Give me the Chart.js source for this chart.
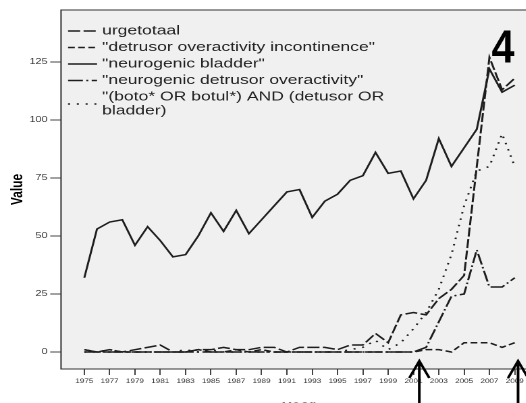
<!DOCTYPE html>
<html>
<head>
<meta charset="utf-8">
<script src="https://cdn.jsdelivr.net/npm/chart.js@4.4.1/dist/chart.umd.min.js"></script>
<style>
  html, body { margin: 0; padding: 0; background: #fff; overflow: hidden; }
  /* the source picture is stretched sideways, so the whole chart is too */
  #wrap { position: absolute; left: 0; top: 0; width: 404px; height: 413px; transform: scaleX(1.35); transform-origin: 0 0; }
</style>
</head>
<body>
<div id="wrap"><canvas id="chart" width="404" height="413"></canvas></div>
<script>
// ---- data ----
const years = [1975, 1976, 1977, 1978, 1979, 1980, 1981, 1982, 1983, 1984,
               1985, 1986, 1987, 1988, 1989, 1990, 1991, 1992, 1993, 1994,
               1995, 1996, 1997, 1998, 1999, 2000, 2001, 2002, 2003, 2004,
               2005, 2006, 2007, 2008, 2009];

const urgetotaal = [1, 0, 1, 0, 1, 2, 3, 0, 0, 1,
                    1, 2, 1, 1, 2, 2, 0, 2, 2, 2,
                    1, 3, 3, 8, 4, 16, 17, 16, 23, 27,
                    33, 80, 127, 113, 118];

const detrusorIncontinence = [1, 0, 0, 0, 0, 0, 0, 0, 0, 1,
                              0, 0, 1, 0, 1, 0, 0, 0, 0, 0,
                              0, 0, 0, 0, 0, 0, 0, 1, 1, 0,
                              4, 4, 4, 2, 4];

const neurogenicBladder = [32, 53, 56, 57, 46, 54, 48, 41, 42, 50,
                           60, 52, 61, 51, 57, 63, 69, 70, 58, 65,
                           68, 74, 76, 86, 77, 78, 66, 74, 92, 80,
                           88, 96, 122, 112, 115];

const neurogenicDetrusor = [0, 0, 0, 0, 0, 0, 0, 0, 0, 0,
                            0, 0, 0, 0, 0, 0, 0, 0, 0, 0,
                            0, 0, 0, 0, 0, 0, 0, 2, 13, 24,
                            25, 44, 28, 28, 32];

const botulinum = [0, 0, 1, 0, 0, 0, 0, 0, 1, 0,
                   1, 0, 0, 0, 0, 0, 0, 0, 0, 0,
                   0, 1, 2, 5, 1, 4, 10, 17, 27, 42,
                   63, 78, 80, 94, 80];

const seriesLabels = [
    ['urgetotaal'],
    ['"detrusor overactivity incontinence"'],
    ['"neurogenic bladder"'],
    ['"neurogenic detrusor overactivity"'],
    ['"(boto* OR botul*) AND (detusor OR', 'bladder)']
];

const xTicks = [1975, 1977, 1979, 1981, 1983, 1985, 1987, 1989, 1991,
                1993, 1995, 1997, 1999, 2001, 2003, 2005, 2007, 2009];
const yTicks = [0, 25, 50, 75, 100, 125];

const panelLabel = '4';
const arrowYears = [2001.46, 2009.26];

// ---- styles ----
const FONT = "'Liberation Sans', Arial, Helvetica, sans-serif";
const LINE = '#1e1e1e';
const dashes = [[9, 2.5], [5, 2.5], [], [11, 2.5, 1.5, 2.5], [1.5, 5]];

const seriesValues = [urgetotaal, detrusorIncontinence, neurogenicBladder, neurogenicDetrusor, botulinum];

const datasets = seriesValues.map((vals, i) => ({
    label: seriesLabels[i].join(' '),
    legendLines: seriesLabels[i],
    data: years.map((yr, k) => ({ x: yr, y: vals[k] })),
    borderColor: LINE,
    borderWidth: 1.5,
    borderDash: dashes[i],
    pointRadius: 0,
    tension: 0,
    fill: false
}));

const plotFrame = {
    id: 'plotFrame',
    beforeDraw(chart) {
        const { ctx, chartArea: a } = chart;
        ctx.save();
        ctx.fillStyle = '#f0f0f0';
        ctx.fillRect(a.left, a.top, a.right - a.left, a.bottom - a.top);
        ctx.restore();
    },
    afterDraw(chart) {
        const { ctx, chartArea: a } = chart;
        ctx.save();
        ctx.strokeStyle = '#333';
        ctx.lineWidth = 1;
        ctx.strokeRect(a.left, a.top, a.right - a.left, a.bottom - a.top);
        ctx.restore();
    }
};

const insideLegend = {
    id: 'insideLegend',
    afterDatasetsDraw(chart) {
        const ctx = chart.ctx;
        ctx.save();
        ctx.font = '13px ' + FONT;
        ctx.fillStyle = '#222';
        ctx.textBaseline = 'middle';
        let y = 31;
        chart.data.datasets.forEach(ds => {
            const lines = ds.legendLines;
            const sampleY = y + (lines.length - 1) * 7;
            ctx.strokeStyle = ds.borderColor;
            ctx.lineWidth = ds.borderWidth;
            ctx.setLineDash(ds.borderDash);
            ctx.beginPath();
            ctx.moveTo(50.4, sampleY);
            ctx.lineTo(71.9, sampleY);
            ctx.stroke();
            ctx.setLineDash([]);
            lines.forEach((t, i) => ctx.fillText(t, 75.6, y + i * 14));
            y += 16.5 + (lines.length - 1) * 14;
        });
        ctx.restore();
    }
};

// panel number and the two arrows pasted onto the figure
const panelMarks = {
    id: 'panelMarks',
    afterDraw(chart) {
        const ctx = chart.ctx;
        const xs = chart.scales.x;
        ctx.save();
        ctx.font = 'bold 46px ' + FONT;
        const w = ctx.measureText(panelLabel).width;
        ctx.translate(372.6, 62.7);
        ctx.scale(17 / w, 1);
        ctx.fillStyle = '#000';
        ctx.textAlign = 'center';
        ctx.textBaseline = 'alphabetic';
        ctx.fillText(panelLabel, 0, 0);
        ctx.restore();

        ctx.save();
        ctx.strokeStyle = '#000';
        ctx.lineWidth = 2;
        arrowYears.forEach(yr => {
            const px = xs.getPixelForValue(yr);
            ctx.beginPath();
            ctx.moveTo(px, chart.height);
            ctx.lineTo(px, 361);
            ctx.moveTo(px - 7.4, 378);
            ctx.lineTo(px, 361);
            ctx.lineTo(px + 7.4, 378);
            ctx.stroke();
        });
        ctx.restore();
    }
};

Chart.defaults.font.family = FONT;

new Chart(document.getElementById('chart'), {
    type: 'line',
    data: { datasets },
    plugins: [plotFrame, insideLegend, panelMarks],
    options: {
        responsive: false,
        animation: false,
        devicePixelRatio: 2,
        layout: { padding: { left: 0, top: 10, right: 6.2, bottom: 0 } },
        plugins: {
            legend: { display: false },
            tooltip: { enabled: false }
        },
        scales: {
            x: {
                type: 'linear',
                min: 1973.16,
                max: 2010.76,
                afterBuildTicks: s => { s.ticks = xTicks.map(v => ({ value: v })); },
                afterFit: s => { s.height = 44; },
                border: { display: false },
                grid: { drawOnChartArea: false, drawTicks: true, tickLength: 6, color: '#444' },
                ticks: {
                    autoSkip: false, maxRotation: 0, padding: 2.5,
                    color: '#333', font: { size: 6 },
                    callback: v => String(v)
                },
                title: { display: true, text: 'year', color: '#000', font: { size: 12, weight: 'bold' }, padding: 0 }
            },
            y: {
                min: -7.33,
                max: 147.4,
                afterBuildTicks: s => { s.ticks = yTicks.map(v => ({ value: v })); },
                afterFit: s => { s.width = 45.2; },
                border: { display: false },
                grid: { drawOnChartArea: false, drawTicks: true, tickLength: 8, color: '#444' },
                ticks: { padding: 2, color: '#333', font: { size: 8 } },
                title: { display: true, text: 'Value', color: '#000', font: { size: 12, weight: 'bold' }, padding: { top: 6, bottom: 0 } }
            }
        }
    }
});
</script>
</body>
</html>
